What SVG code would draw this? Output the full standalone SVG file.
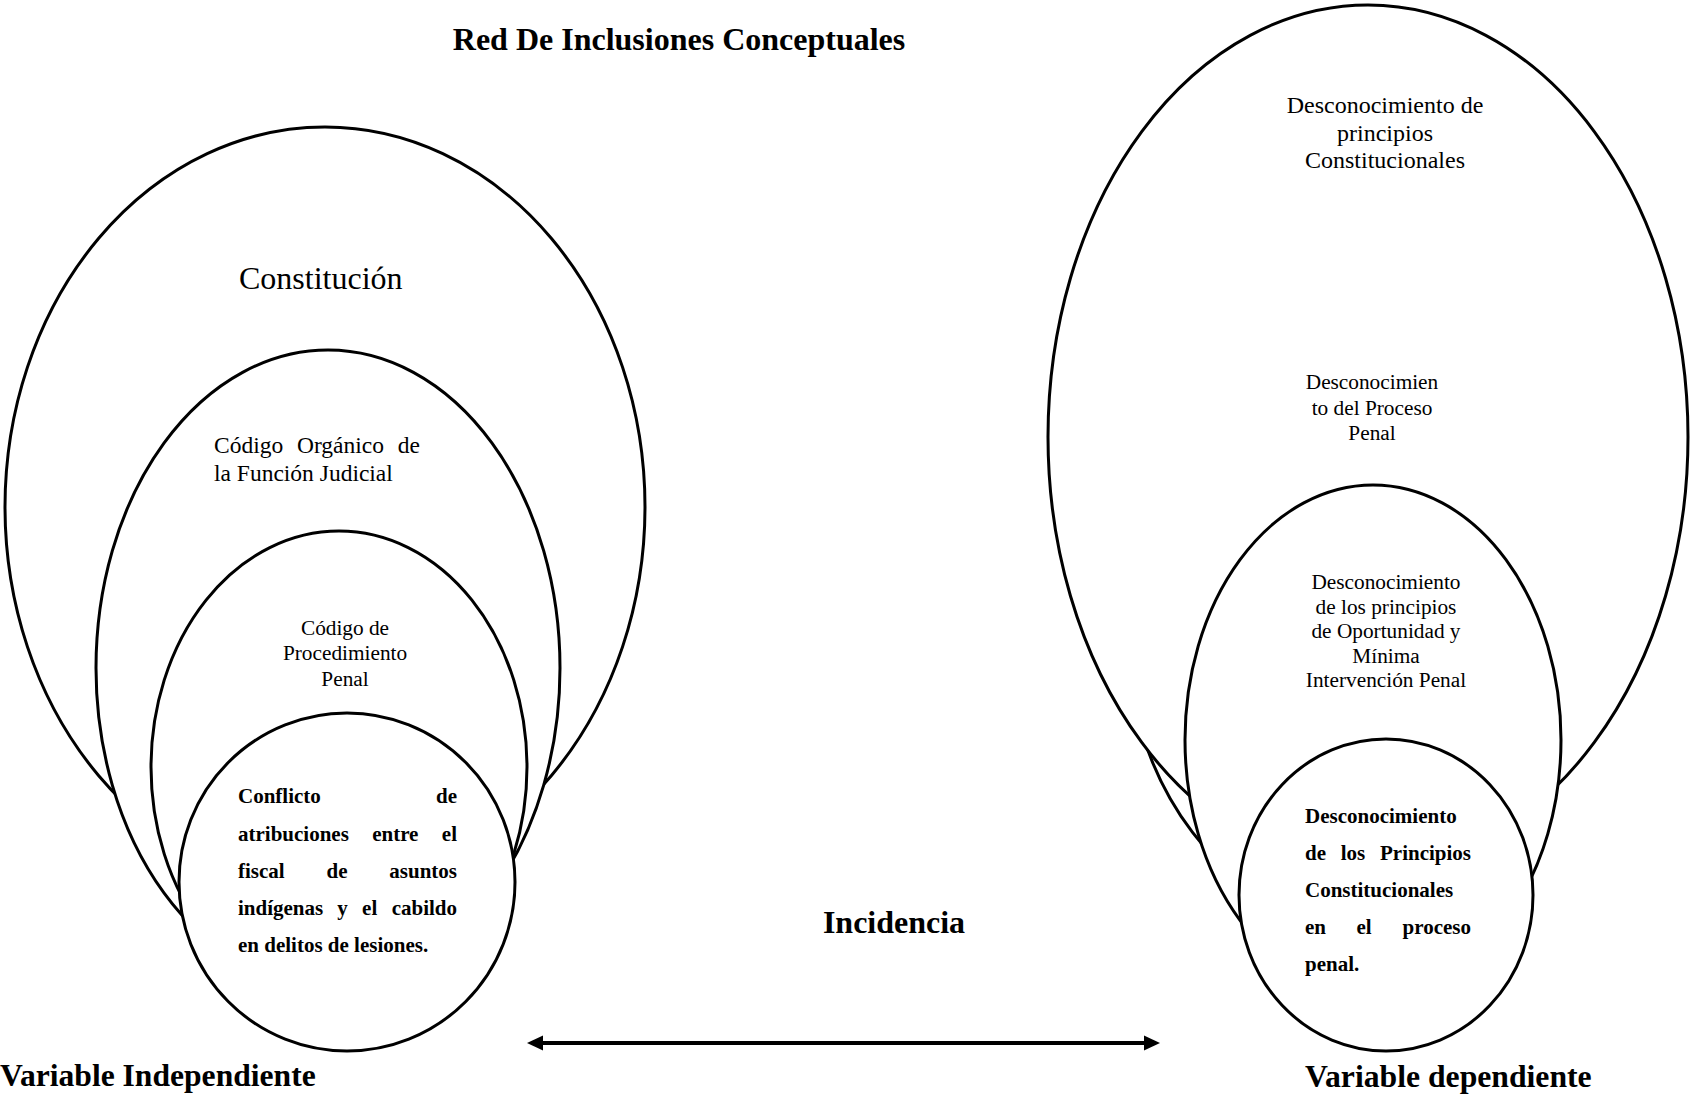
<svg xmlns="http://www.w3.org/2000/svg" width="1691" height="1097" viewBox="0 0 1691 1097">
  <style>
    .shape { fill: #ffffff; stroke: #000000; stroke-width: 3; }
    .open { fill: none; stroke: #000000; stroke-width: 3; }
    .t { font-family: "Liberation Serif", "Times New Roman", serif; fill: #000000; }
    .b { font-weight: bold; }
    .c { text-anchor: middle; }
    .e { text-anchor: end; }
    .m { text-anchor: middle; }
  </style>
  <defs>
    <marker id="head" markerUnits="userSpaceOnUse" markerWidth="16" markerHeight="16" refX="6" refY="7.5" orient="auto-start-reverse" viewBox="0 0 16 15">
      <path d="M0,0 L16,7.5 L0,15 Z" fill="#000000"/>
    </marker>
    <clipPath id="outsideBig">
      <path clip-rule="evenodd" d="M0,0 H1691 V1097 H0 Z M1048,437 a320,432 0 1,0 640,0 a320,432 0 1,0 -640,0 Z"/>
    </clipPath>
  </defs>

  <g id="title">
    <text class="t b c" x="679" y="50" font-size="32">Red De Inclusiones Conceptuales</text>
  </g>

  <!-- Left: independent variable -->
  <g id="node-constitucion">
    <ellipse class="shape" cx="325" cy="507" rx="320" ry="380"/>
    <text class="t" x="239" y="289" font-size="32">Constitución</text>
  </g>
  <g id="node-codigo-organico">
    <ellipse class="shape" cx="328" cy="668" rx="232" ry="318"/>
    <text class="t" font-size="23.5" y="453"><tspan x="214">Código</tspan><tspan class="m" x="340.5">Orgánico</tspan><tspan class="e" x="420">de</tspan></text>
    <text class="t" font-size="23.5" x="214" y="481">la Función Judicial</text>
  </g>
  <g id="node-codigo-procedimiento">
    <ellipse class="shape" cx="339" cy="767" rx="188" ry="236"/>
    <text class="t c" font-size="21.3" x="345" y="635">Código de</text>
    <text class="t c" font-size="21.3" x="345" y="660">Procedimiento</text>
    <text class="t c" font-size="21.3" x="345" y="686">Penal</text>
  </g>
  <g id="node-conflicto">
    <ellipse class="shape" cx="347" cy="882" rx="168" ry="169"/>
    <text class="t b" font-size="21" y="803"><tspan x="238">Conflicto</tspan><tspan class="e" x="457">de</tspan></text>
    <text class="t b" font-size="21" y="841"><tspan x="238">atribuciones</tspan><tspan class="m" x="395.3">entre</tspan><tspan class="e" x="457">el</tspan></text>
    <text class="t b" font-size="21" y="878"><tspan x="238">fiscal</tspan><tspan class="m" x="337">de</tspan><tspan class="e" x="457">asuntos</tspan></text>
    <text class="t b" font-size="21" y="915"><tspan x="238">indígenas</tspan><tspan class="m" x="342.6">y</tspan><tspan class="m" x="369.7">el</tspan><tspan class="e" x="457">cabildo</tspan></text>
    <text class="t b" font-size="21" x="238" y="952">en delitos de lesiones.</text>
  </g>

  <!-- Right: dependent variable -->
  <g id="node-desconocimiento-constitucionales">
    <ellipse class="shape" cx="1368" cy="437" rx="320" ry="432"/>
    <text class="t c" font-size="24" x="1385" y="113">Desconocimiento de</text>
    <text class="t c" font-size="24" x="1385" y="141">principios</text>
    <text class="t c" font-size="24" x="1385" y="168">Constitucionales</text>
  </g>
  <g id="node-desconocimiento-proceso">
    <ellipse class="open" cx="1355" cy="620" rx="230" ry="300" clip-path="url(#outsideBig)"/>
    <text class="t c" font-size="21.3" x="1372" y="389">Desconocimien</text>
    <text class="t c" font-size="21.3" x="1372" y="415">to del Proceso</text>
    <text class="t c" font-size="21.3" x="1372" y="440">Penal</text>
  </g>
  <g id="node-desconocimiento-oportunidad">
    <ellipse class="shape" cx="1373" cy="740" rx="188" ry="255"/>
    <text class="t c" font-size="21.3" x="1386" y="589">Desconocimiento</text>
    <text class="t c" font-size="21.3" x="1386" y="613.5">de los principios</text>
    <text class="t c" font-size="21.3" x="1386" y="638">de Oportunidad y</text>
    <text class="t c" font-size="21.3" x="1386" y="662.5">Mínima</text>
    <text class="t c" font-size="21.3" x="1386" y="687">Intervención Penal</text>
  </g>
  <g id="node-desconocimiento-principios-proceso">
    <ellipse class="shape" cx="1386" cy="895" rx="147" ry="156"/>
    <text class="t b" font-size="21" x="1305" y="823">Desconocimiento</text>
    <text class="t b" font-size="21" y="860"><tspan x="1305">de</tspan><tspan class="m" x="1353">los</tspan><tspan class="e" x="1471">Principios</tspan></text>
    <text class="t b" font-size="21" x="1305" y="897">Constitucionales</text>
    <text class="t b" font-size="21" y="934"><tspan x="1305">en</tspan><tspan class="m" x="1364">el</tspan><tspan class="e" x="1471">proceso</tspan></text>
    <text class="t b" font-size="21" x="1305" y="971">penal.</text>
  </g>

  <g id="connectors">
    <line x1="537" y1="1043" x2="1150" y2="1043" stroke="#000000" stroke-width="4" marker-start="url(#head)" marker-end="url(#head)"/>
    <text class="t b c" x="894" y="933" font-size="32">Incidencia</text>
  </g>

  <g id="label-independiente">
    <text class="t b" x="0" y="1086" font-size="31.6">Variable Independiente</text>
  </g>
  <g id="label-dependiente">
    <text class="t b" x="1305" y="1087" font-size="31.7">Variable dependiente</text>
  </g>
</svg>
